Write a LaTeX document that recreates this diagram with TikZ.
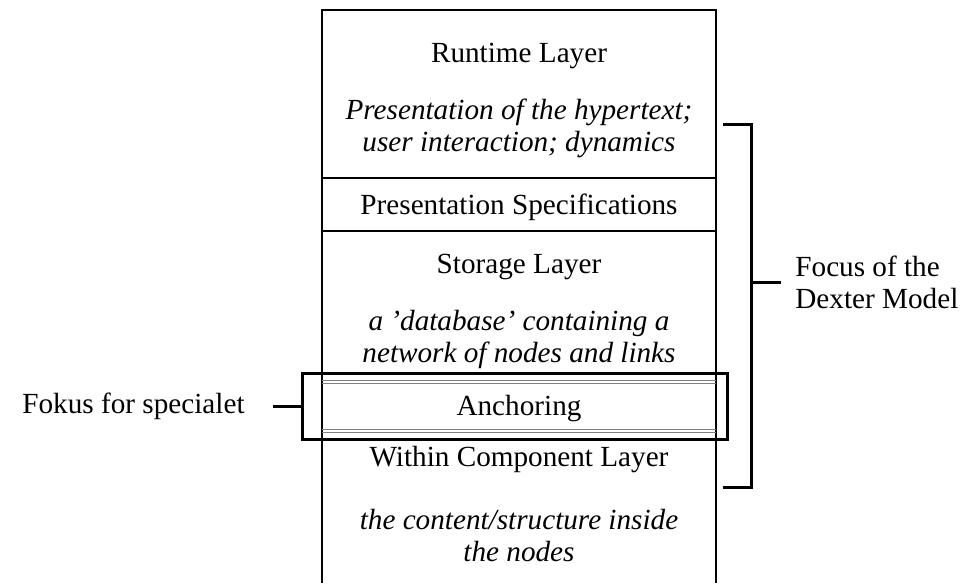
\documentclass[tikz,border=0pt]{standalone}
\usepackage{fontspec}
\setmainfont{Liberation Serif}
\begin{document}
\begin{tikzpicture}[x=0.5pt,y=-0.5pt,
    layer/.style={font=\fontsize{14.6}{16}\selectfont,align=center},
    note/.style={layer,font=\fontsize{14.6}{16}\selectfont\itshape},
    boxline/.style={line width=0.7pt},
    splitline/.style={gray,line width=0.5pt},
    heavy/.style={line width=1.5pt}]
        \useasboundingbox (0,0) rectangle (962,583);
        % the stack of layers
        \draw[boxline] (322,583) -- (322,10) -- (716,10) -- (716,583);
        \draw[boxline] (322,178) -- (716,178); \draw[boxline] (322,231) -- (716,231);
        \draw[splitline] (322,380) -- (716,380); \draw[splitline] (322,383.5) -- (716,383.5);
        \draw[splitline] (322,429) -- (716,429); \draw[splitline] (322,432.5) -- (716,432.5);
        \node[layer] (runtime) at (519,56) {Runtime Layer};
        \node[note] (runtimenote) at (519,128) {Presentation of the hypertext;\\user interaction; dynamics};
        \node[layer] (presspec) at (519,207) {Presentation Specifications};
        \node[layer] (storage) at (519,267) {Storage Layer};
        \node[note] (storagenote) at (519,339) {a 'database' containing a\\network of nodes and links};
        \node[layer] (anchoring) at (519,409) {Anchoring};
        \node[layer] (within) at (519,460) {Within Component Layer};
        \node[note] (withinnote) at (519,536) {the content/structure inside\\the nodes};
        % focus of the thesis
        \draw[heavy] (302,373) rectangle (727,439); \coordinate (anchorbox) at (302,406);
        \node[layer,anchor=east,inner xsep=14pt] (fokus) at (273,406) {Fokus for specialet};
        \draw[heavy] (fokus) -- (anchorbox);
        % focus of the Dexter model
        \coordinate (dtop) at (723,124); \coordinate (dbot) at (723,487); \coordinate (dmid) at (751,282);
        \draw[heavy] (dtop) -| (dmid) |- (dbot);
        \node[layer,anchor=west,align=left,inner xsep=7pt] (dexter) at (781,282) {Focus of the\\Dexter Model};
        \draw[heavy] (dmid) -- (dexter);
      \end{tikzpicture}
\end{document}
